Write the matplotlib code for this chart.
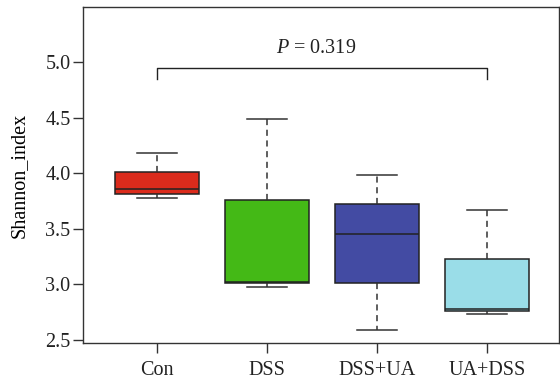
import matplotlib
matplotlib.use("Agg")
import matplotlib.pyplot as plt

groups = ["Con", "DSS", "DSS+UA", "UA+DSS"]
whislo = [3.78, 2.98, 2.59, 2.73]
q1 = [3.81, 3.01, 3.01, 2.76]
med = [3.855, 3.025, 3.45, 2.775]
q3 = [4.015, 3.76, 3.72, 3.23]
whishi = [4.18, 4.49, 3.985, 3.67]
colors = ["#DB2B1C", "#44B916", "#434BA3", "#9ADDE8"]
p_text = "$P$ = 0.319"

plt.rcParams['font.family'] = ['Liberation Serif', 'DejaVu Serif']
plt.rcParams['mathtext.fontset'] = 'custom'
plt.rcParams['mathtext.it'] = 'Liberation Serif:italic'
plt.rcParams['mathtext.rm'] = 'Liberation Serif'
plt.rcParams['text.color'] = '#222222'
plt.rcParams['xtick.labelcolor'] = '#222222'
plt.rcParams['ytick.labelcolor'] = '#222222'

fig = plt.figure(figsize=(5.6, 3.83), dpi=100)
ax = fig.add_axes([83/560, 1 - 343/383, 476/560, 336/383])

stats = []
for i, g in enumerate(groups):
    stats.append(dict(label=g, whislo=whislo[i], q1=q1[i], med=med[i],
                      q3=q3[i], whishi=whishi[i], fliers=[]))

bp = ax.bxp(stats, positions=range(1, 5), widths=0.76, patch_artist=True,
            showfliers=False,
            boxprops=dict(edgecolor="#222222", linewidth=1.1),
            medianprops=dict(color="#222222", linewidth=1.1),
            whiskerprops=dict(color="#333333", linewidth=1.1, linestyle=(0, (4, 3))),
            capprops=dict(color="#333333", linewidth=1.1),
            capwidths=0.36)
for patch, c in zip(bp["boxes"], colors):
    patch.set_facecolor(c)

# significance bracket
ax.plot([1, 1, 4, 4], [4.845, 4.943, 4.943, 4.845], color="#222222", lw=1.0)
ax.text(2.45, 5.04, p_text, ha="center", va="bottom", fontsize=14.5)

ax.set_xlim(0.33, 4.655)
ax.set_ylim(2.473, 5.495)
ax.set_yticks([2.5, 3.0, 3.5, 4.0, 4.5, 5.0])
ax.set_yticklabels(["2.5", "3.0", "3.5", "4.0", "4.5", "5.0"])
ax.set_ylabel("Shannon_index", fontsize=14.5, labelpad=12)
ax.tick_params(labelsize=14.5, color="#333333", length=7, width=1.0, pad=2)
ax.tick_params(axis="x", pad=6)
for s in ax.spines.values():
    s.set_color("#333333")
    s.set_linewidth(1.0)

fig.savefig("out.png", dpi=100)
